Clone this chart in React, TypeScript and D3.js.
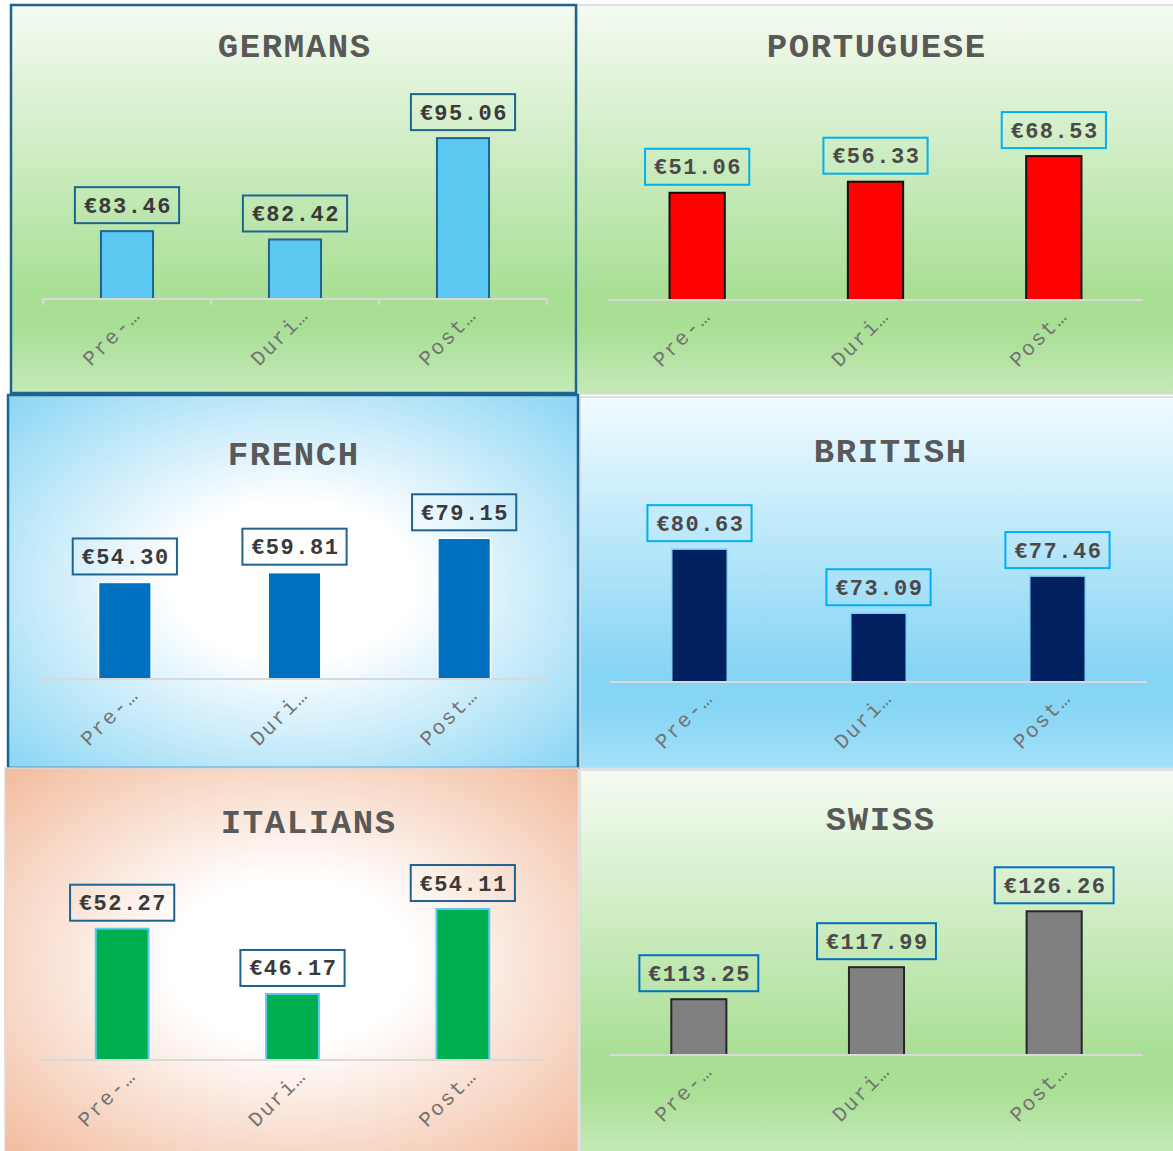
import React from "react";
import * as d3 from "d3";

// ---------- data ----------
const categories = ["Pre-…", "Duri…", "Post…"];
const titles = ["GERMANS", "PORTUGUESE", "FRENCH", "BRITISH", "ITALIANS", "SWISS"];
const germansValues = [83.46, 82.42, 95.06];
const portugueseValues = [51.06, 56.33, 68.53];
const frenchValues = [54.3, 59.81, 79.15];
const britishValues = [80.63, 73.09, 77.46];
const italiansValues = [52.27, 46.17, 54.11];
const swissValues = [113.25, 117.99, 126.26];
const germansAxis = [75, 100];
const portugueseAxis = [0, 80];
const frenchAxis = [0, 90];
const britishAxis = [65, 85];
const italiansAxis = [40, 56];
const swissAxis = [105, 130];

const seriesValues = [germansValues, portugueseValues, frenchValues, britishValues, italiansValues, swissValues];
const seriesAxes = [germansAxis, portugueseAxis, frenchAxis, britishAxis, italiansAxis, swissAxis];

// ---------- layout & style ----------
type Layout = {
  x: number; y: number; w: number; h: number;
  plot: [number, number, number, number]; // left, right, top, bottom
  title: [number, number];
  bg: string; border: string; borderW: number; ticks?: boolean;
  barFill: string; barStroke: string; barStrokeW: number; boxStroke: string; labelColor: string;
};

const layouts: Layout[] = [
  { x: 11, y: 5, w: 565, h: 388, plot: [43, 547, 98.5, 299], title: [294, 57], bg: "url(#gGreen)", border: "#1F6391", borderW: 2.5, ticks: true, barFill: "#5BC8F2", barStroke: "#1F6391", barStrokeW: 2, boxStroke: "#1F6391", labelColor: "#3A3A3A" },
  { x: 577, y: 5, w: 598, h: 389, plot: [608, 1143, 132, 300], title: [876, 57], bg: "url(#gGreen)", border: "#D9D9D9", borderW: 1.5, barFill: "#FF0000", barStroke: "#111111", barStrokeW: 2, boxStroke: "#00B0F0", labelColor: "#4A4A4A" },
  { x: 8, y: 395, w: 570, h: 373, plot: [40, 549, 519, 679], title: [293, 465], bg: "url(#gBlueRadial)", border: "#1F6391", borderW: 2.5, barFill: "#0070C0", barStroke: "#FFFFFF", barStrokeW: 1.5, boxStroke: "#1F6391", labelColor: "#3A3A3A" },
  { x: 580, y: 397, w: 595, h: 371, plot: [610, 1147, 512, 682], title: [890, 462], bg: "url(#gBlueLinear)", border: "#D9D9D9", borderW: 1.5, barFill: "#002060", barStroke: "#7FD3F7", barStrokeW: 1.5, boxStroke: "#00B0F0", labelColor: "#4A4A4A" },
  { x: 5, y: 768, w: 573, h: 386, plot: [37, 548, 888.8, 1060], title: [308, 833], bg: "url(#gPeachRadial)", border: "#D9D9D9", borderW: 1.5, barFill: "#00B050", barStroke: "#5BC8F2", barStrokeW: 2, boxStroke: "#1F6391", labelColor: "#3A3A3A" },
  { x: 580, y: 770, w: 595, h: 384, plot: [610, 1143, 886, 1055], title: [880, 830], bg: "url(#gGreen)", border: "#D9D9D9", borderW: 1.5, barFill: "#808080", barStroke: "#262626", barStrokeW: 2, boxStroke: "#0070C0", labelColor: "#4A4A4A" },
];

const FONT = "'Liberation Mono', 'DejaVu Sans Mono', monospace";
const fmt = d3.format(".2f");
const drawOrder = [1, 3, 5, 0, 2, 4];

function Panel({ idx }: { idx: number }) {
  const L = layouts[idx];
  const values = seriesValues[idx];
  const [left, right, top, bottom] = L.plot;
  const xBand = d3.scaleBand<string>().domain(categories).range([left, right]).padding(0);
  const y = d3.scaleLinear().domain(seriesAxes[idx]).range([bottom, top]);
  const step = xBand.step();
  const barW = step * 0.31;
  const charW = 14.7;
  const titleLS = 1.6;
  const labLS = 1.5;
  const axLS = 1.8;
  return (
    <g>
      <rect x={L.x} y={L.y} width={L.w} height={L.h} fill={L.bg} stroke={L.border} strokeWidth={L.borderW} />
      <text x={L.title[0] + titleLS / 2} y={L.title[1]} textAnchor="middle" fontFamily={FONT} fontWeight="bold" fontSize={34} letterSpacing={titleLS} fill="#595959">
        {titles[idx]}
      </text>
      {categories.map((c, i) => {
        const cx = (xBand(c) as number) + step / 2;
        const yt = y(values[i]);
        return (
          <rect key={"b" + i} x={cx - barW / 2} y={yt} width={barW} height={bottom - yt} fill={L.barFill} stroke={L.barStroke} strokeWidth={L.barStrokeW} />
        );
      })}
      <line x1={left} x2={right} y1={bottom} y2={bottom} stroke="#D9D9D9" strokeWidth={2} />
      {L.ticks &&
        d3.range(categories.length + 1).map((k) => (
          <line key={"t" + k} x1={left + k * step} x2={left + k * step} y1={bottom} y2={bottom + 6} stroke="#D9D9D9" strokeWidth={2} />
        ))}
      {categories.map((c, i) => {
        const cx = (xBand(c) as number) + step / 2;
        const yt = y(values[i]);
        const label = "€" + fmt(values[i]);
        const bw = label.length * charW + 16;
        const bh = 36;
        const by = yt - 8 - bh;
        return (
          <g key={"l" + i}>
            <rect x={cx - bw / 2} y={by} width={bw} height={bh} fill="none" stroke={L.boxStroke} strokeWidth={2} />
            <text x={cx + labLS / 2} y={by + 25.5} textAnchor="middle" fontFamily={FONT} fontWeight="bold" fontSize={22} letterSpacing={labLS} fill={L.labelColor}>
              {label}
            </text>
          </g>
        );
      })}
      {categories.map((c, i) => {
        const cx = (xBand(c) as number) + step / 2;
        const ax = cx + 15;
        const ay = bottom + 17;
        return (
          <text key={"a" + i} x={ax} y={ay} transform={`rotate(-45 ${ax} ${ay})`} textAnchor="end" fontFamily={FONT} fontSize={21} letterSpacing={axLS} fill="#737373">
            {c}
          </text>
        );
      })}
    </g>
  );
}

export default function App() {
  return (
    <svg width={1173} height={1151} style={{ position: "absolute", left: 0, top: 0, background: "#FFFFFF" }}>
      <defs>
        <linearGradient id="gGreen" x1="0" y1="0" x2="0" y2="1">
          <stop offset="0" stopColor="#F5FBF2" />
          <stop offset="0.74" stopColor="#A9DF95" />
          <stop offset="0.83" stopColor="#A9DF95" />
          <stop offset="1" stopColor="#C4E9B7" />
        </linearGradient>
        <linearGradient id="gBlueLinear" x1="0" y1="0" x2="0" y2="1">
          <stop offset="0" stopColor="#F2FBFF" />
          <stop offset="0.74" stopColor="#86D5F5" />
          <stop offset="0.83" stopColor="#86D5F5" />
          <stop offset="1" stopColor="#A3E0F8" />
        </linearGradient>
        <radialGradient id="gBlueRadial" cx="0.5" cy="0.5" r="0.707">
          <stop offset="0" stopColor="#FFFFFF" />
          <stop offset="0.3" stopColor="#FFFFFF" />
          <stop offset="1" stopColor="#8AD5F4" />
        </radialGradient>
        <radialGradient id="gPeachRadial" cx="0.5" cy="0.5" r="0.707">
          <stop offset="0" stopColor="#FFFFFF" />
          <stop offset="0.3" stopColor="#FFFFFF" />
          <stop offset="1" stopColor="#F2BB9D" />
        </radialGradient>
      </defs>
      {drawOrder.map((i) => (
        <Panel key={i} idx={i} />
      ))}
    </svg>
  );
}
